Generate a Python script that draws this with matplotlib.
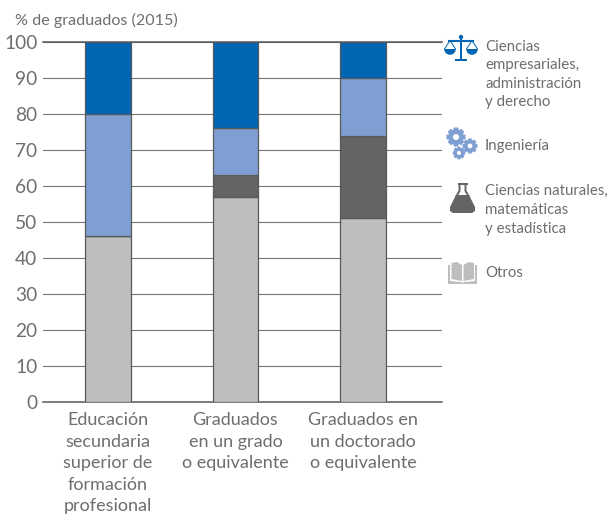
import numpy as np
import matplotlib
matplotlib.use("Agg")
import matplotlib.pyplot as plt
from matplotlib.patches import Circle, Polygon, Rectangle, Wedge

plt.rcParams['font.family'] = ['Lato', 'DejaVu Sans']

# Chart data
categories = ["Educación\nsecundaria\nsuperior de\nformación\nprofesional",
              "Graduados\nen un grado\no equivalente",
              "Graduados en\nun doctorado\no equivalente"]
otros = [46, 57, 51]
ciencias = [0, 6, 23]
ingenieria = [34, 13, 16]
empresariales = [20, 24, 10]
yticks = list(range(0, 101, 10))

legend_labels = ["Ciencias\nempresariales,\nadministración\ny derecho",
                 "Ingeniería",
                 "Ciencias naturales,\nmatemáticas\ny estadística",
                 "Otros"]

TEXT = "#6d6e70"
EDGE = "#58595b"
GRID = "#77787a"
BLUE = "#0066b3"
LIGHT_BLUE = "#7f9fd3"
DARK = "#636466"
GREY = "#bdbec0"

fig = plt.figure(figsize=(6.12, 5.16), dpi=100)
ax = fig.add_axes([43 / 612, 1 - 402 / 516, 399 / 612, 360 / 516])

# Stacked bars
x = np.arange(len(categories))
bottom = np.zeros(len(categories))
for values, color in [(otros, GREY), (ciencias, DARK), (ingenieria, LIGHT_BLUE), (empresariales, BLUE)]:
    ax.bar(x, values, 0.36, bottom=bottom, color=color, edgecolor=EDGE, linewidth=0.9, zorder=3)
    bottom += np.array(values)

ax.set_xlim(-0.51, 2.62)
ax.set_ylim(0, 100)
ax.set_yticks(yticks)
ax.set_xticks(x)
ax.set_xticklabels(categories, fontsize=13.0, color=TEXT, linespacing=1.42)
ax.tick_params(axis='x', length=0, pad=7.5)
ax.tick_params(axis='y', length=0, pad=4, labelsize=13.8, labelcolor=TEXT)
ax.grid(axis='y', color=GRID, linewidth=0.8, zorder=0)
ax.set_axisbelow(True)
for side in ax.spines:
    ax.spines[side].set_visible(False)
for y_edge in (0, 100):
    ax.axhline(y_edge, color=EDGE, linewidth=1.1, zorder=1, clip_on=False)

fig.text(15 / 612, 1 - 20 / 516, "% de graduados (2015)", fontsize=11.6, color=TEXT, va='center')

# Overlay in pixel coordinates for the legend icons and labels
ov = fig.add_axes([0, 0, 1, 1])
ov.set_xlim(0, 612)
ov.set_ylim(516, 0)
ov.axis('off')
ov.patch.set_alpha(0)

legend_y = [74.5, 146, 210, 273]
for label, y in zip(legend_labels, legend_y):
    ov.text(485, y, label, fontsize=10.8, color=TEXT, va='center', ha='left', linespacing=1.42)


# Scales icon
def draw_scales(cx, cy):
    ov.add_patch(Rectangle((cx - 1.2, cy - 12), 2.4, 24, color=BLUE, lw=0))
    ov.add_patch(Circle((cx, cy - 12), 2.2, color=BLUE, lw=0))
    ov.add_patch(Rectangle((cx - 6, cy + 10), 12, 2.4, color=BLUE, lw=0))
    ov.plot([cx - 12, cx + 12], [cy - 8.5, cy - 8.5], color=BLUE, lw=1.5)
    for side in (-1, 1):
        pan = cx + side * 11
        ov.add_patch(Wedge((pan, cy), 5.8, 0, 180, color=BLUE, lw=0))
        ov.plot([pan - 5.5, pan, pan + 5.5], [cy, cy - 8.5, cy], color=BLUE, lw=0.7)


# Gear icon
def draw_gear(cx, cy, r, teeth=8):
    for angle in np.linspace(0, 2 * np.pi, teeth, endpoint=False):
        ca, sa = np.cos(angle), np.sin(angle)
        w = r * 0.3
        pts = [(cx + ca * r * 0.6 - sa * w, cy + sa * r * 0.6 + ca * w),
               (cx + ca * r + (-sa) * w * 0.8, cy + sa * r + ca * w * 0.8),
               (cx + ca * r + sa * w * 0.8, cy + sa * r - ca * w * 0.8),
               (cx + ca * r * 0.6 + sa * w, cy + sa * r * 0.6 - ca * w)]
        ov.add_patch(Polygon(pts, color=LIGHT_BLUE, lw=0))
    ov.add_patch(Circle((cx, cy), r * 0.78, color=LIGHT_BLUE, lw=0))
    ov.add_patch(Circle((cx, cy), r * 0.32, color='white', lw=0))


# Flask icon
def draw_flask():
    ov.add_patch(Rectangle((457.5, 183), 10, 1.8, color=DARK, lw=0))
    ov.plot([459.5, 459.5, 456.5], [184, 191, 196], color=DARK, lw=1.4)
    ov.plot([465.5, 465.5, 468.5], [184, 191, 196], color=DARK, lw=1.4)
    ov.add_patch(Polygon([(456, 195), (469, 195), (475, 207), (475, 211), (472, 213),
                          (453, 213), (450, 211), (450, 207)], color=DARK, lw=0))


# Book icon
def draw_book():
    ov.add_patch(Polygon([(448, 265), (450, 265), (450, 281), (461, 282), (462.5, 283), (464, 282),
                          (475, 281), (475, 265), (477, 265), (477, 284), (448, 284)], color=GREY, lw=0))
    ov.add_patch(Polygon([(451.5, 263), (457, 262), (462, 265), (462, 281), (451.5, 279)], color=GREY, lw=0))
    ov.add_patch(Polygon([(463.5, 265), (468.5, 262), (474, 263), (474, 279), (463.5, 281)], color=GREY, lw=0))


draw_scales(461, 49)
draw_gear(456, 137, 9.5)
draw_gear(470, 146, 7.5)
draw_gear(459, 153, 6.3)
draw_flask()
draw_book()

fig.savefig("out.png", dpi=100)
